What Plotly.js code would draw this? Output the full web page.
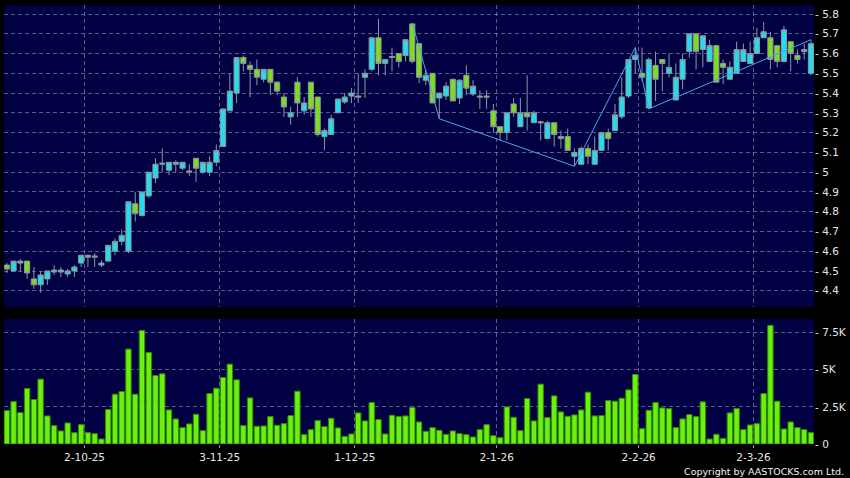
<!DOCTYPE html>
<html>
<head>
<meta charset="utf-8">
<script src="https://cdn.plot.ly/plotly-3.0.1.min.js"></script>
<style>
  html, body { margin: 0; padding: 0; background: #000; }
  #chart { width: 850px; height: 478px; }
</style>
</head>
<body>
<div id="chart"></div>
<script>
// ---------- DATA ----------
const startDate = '2025-09-16';
const holidays = ['2025-10-01','2025-10-07','2025-10-29','2025-12-25','2025-12-26',
                  '2026-01-01','2026-02-17','2026-02-18','2026-02-19'];

const open = [4.53,4.50,4.55,4.55,4.46,4.43,4.46,4.495,4.495,4.485,
  4.50,4.54,4.58,4.57,4.53,4.55,4.60,4.65,4.60,4.84,
  4.78,4.88,4.97,5.04,5.01,5.04,5.02,5.00,5.07,5.00,
  5.00,5.05,5.13,5.31,5.40,5.58,5.54,5.52,5.47,5.52,
  5.455,5.38,5.28,5.455,5.31,5.455,5.38,5.18,5.19,5.30,
  5.355,5.385,5.385,5.48,5.52,5.68,5.55,5.58,5.60,5.59,
  5.75,5.65,5.465,5.50,5.375,5.385,5.47,5.375,5.49,5.395,
  5.385,5.385,5.31,5.23,5.20,5.345,5.23,5.30,5.25,5.255,
  5.17,5.25,5.17,5.18,5.08,5.04,5.12,5.04,5.11,5.20,
  5.21,5.28,5.385,5.57,5.50,5.325,5.54,5.57,5.50,5.365,
  5.47,5.61,5.70,5.62,5.56,5.64,5.55,5.47,5.50,5.56,
  5.55,5.60,5.68,5.68,5.64,5.56,5.66,5.59,5.61,5.50];
const high = [4.54,4.55,4.56,4.55,4.52,4.50,4.50,4.53,4.52,4.51,
  4.53,4.58,4.58,4.59,4.555,4.63,4.665,4.71,4.85,4.90,
  4.90,5.00,5.07,5.12,5.05,5.06,5.05,5.04,5.07,5.05,
  5.08,5.14,5.32,5.50,5.58,5.59,5.56,5.57,5.52,5.52,
  5.46,5.40,5.33,5.48,5.38,5.455,5.38,5.22,5.29,5.37,
  5.40,5.425,5.50,5.52,5.68,5.775,5.57,5.63,5.60,5.67,
  5.755,5.65,5.52,5.50,5.40,5.455,5.47,5.47,5.54,5.465,
  5.415,5.415,5.345,5.23,5.30,5.375,5.375,5.49,5.31,5.26,
  5.26,5.25,5.21,5.22,5.12,5.13,5.14,5.18,5.20,5.22,
  5.345,5.48,5.57,5.63,5.63,5.58,5.61,5.57,5.60,5.55,
  5.60,5.70,5.70,5.69,5.67,5.645,5.57,5.56,5.66,5.65,
  5.66,5.73,5.76,5.71,5.64,5.74,5.66,5.62,5.65,5.67];
const low = [4.49,4.50,4.50,4.46,4.41,4.39,4.43,4.48,4.47,4.47,
  4.47,4.52,4.52,4.52,4.52,4.55,4.58,4.63,4.59,4.75,
  4.78,4.87,4.945,5.00,4.985,5.00,5.01,4.98,4.95,4.99,
  4.98,5.03,5.13,5.31,5.35,5.51,5.38,5.44,5.455,5.39,
  5.39,5.28,5.24,5.28,5.29,5.28,5.18,5.11,5.19,5.30,
  5.345,5.35,5.35,5.375,5.51,5.49,5.49,5.51,5.53,5.56,
  5.55,5.45,5.44,5.35,5.27,5.365,5.36,5.345,5.39,5.385,
  5.32,5.32,5.20,5.16,5.16,5.28,5.23,5.21,5.25,5.16,
  5.17,5.13,5.12,5.11,5.03,5.04,5.04,5.04,5.11,5.11,
  5.21,5.27,5.375,5.50,5.46,5.32,5.36,5.41,5.48,5.365,
  5.42,5.58,5.52,5.53,5.56,5.455,5.445,5.47,5.50,5.56,
  5.55,5.60,5.68,5.52,5.53,5.56,5.51,5.55,5.57,5.49];
const close = [4.51,4.55,4.54,4.49,4.43,4.48,4.50,4.505,4.505,4.50,
  4.52,4.58,4.57,4.575,4.54,4.63,4.65,4.68,4.85,4.79,
  4.90,5.00,5.04,5.045,5.05,5.05,5.05,5.005,5.02,5.05,
  5.05,5.11,5.32,5.41,5.58,5.55,5.52,5.48,5.52,5.455,
  5.41,5.33,5.30,5.35,5.35,5.32,5.19,5.21,5.27,5.37,
  5.38,5.40,5.38,5.50,5.68,5.55,5.57,5.585,5.56,5.67,
  5.56,5.48,5.49,5.35,5.40,5.435,5.36,5.465,5.425,5.435,
  5.38,5.38,5.23,5.20,5.30,5.30,5.30,5.28,5.30,5.25,
  5.25,5.19,5.18,5.11,5.10,5.12,5.08,5.11,5.20,5.17,
  5.29,5.38,5.57,5.59,5.48,5.57,5.47,5.55,5.53,5.48,
  5.57,5.70,5.61,5.69,5.64,5.455,5.53,5.53,5.62,5.62,
  5.60,5.68,5.71,5.57,5.56,5.72,5.60,5.57,5.62,5.65];
const volume = [2252,2860,2117,3738,2995,4369,1892,1239,878,1419,
  766,1306,766,698,338,2320,3355,3536,6396,3355,
  7657,6170,4617,4729,2297,1689,1103,1351,2004,901,
  3400,3761,4481,5382,4324,1239,3108,1194,1216,1847,
  1261,1374,1914,3558,631,968,1576,1171,1734,1081,
  518,676,2094,1554,2792,1644,676,1937,1847,1892,
  2455,1486,856,1103,923,653,878,698,631,473,
  968,1306,563,428,2500,1802,901,3063,1554,4031,
  1779,3243,2162,1869,1959,2297,3491,1892,1914,2928,
  2883,3085,3648,4684,1036,2274,2792,2432,2387,1103,
  1689,1982,1847,2838,338,653,383,2094,2387,968,
  1284,1374,3400,7995,2883,1013,1486,1103,968,766];

// zigzag pivots (trading-day index, price)
const zigzagIdx = [60, 64, 84, 93, 95, 119];
const zigzagPrice = [5.755, 5.27, 5.03, 5.63, 5.32, 5.67];

const tickDates  = ['2025-10-02','2025-11-03','2025-12-01','2026-01-02','2026-02-02','2026-03-02'];
const tickLabels = ['2-10-25','3-11-25','1-12-25','2-1-26','2-2-26','2-3-26'];
const priceTicks = [4.4,4.5,4.6,4.7,4.8,4.9,5.0,5.1,5.2,5.3,5.4,5.5,5.6,5.7,5.8];
const priceTickLabels = ['4.4','4.5','4.6','4.7','4.8','4.9','5','5.1','5.2','5.3','5.4','5.5','5.6','5.7','5.8'];
const volTicks = [0, 2500, 5000, 7500];
const volTickLabels = ['0','2.5K','5K','7.5K'];

// ---------- trading calendar ----------
function tradingDays(start, n) {
  const d = new Date(start + 'T00:00:00Z');
  const out = [];
  while (out.length < n) {
    const dow = d.getUTCDay();
    const s = d.toISOString().slice(0, 10);
    if (dow !== 0 && dow !== 6 && holidays.indexOf(s) < 0) out.push(s);
    d.setUTCDate(d.getUTCDate() + 1);
  }
  return out;
}
const dates = tradingDays(startDate, open.length);
const xi = dates.map((_, i) => i);
const tickPos = tickDates.map(d => dates.indexOf(d) + 0.5);

// ---------- styling ----------
const FONT = 'DejaVu Sans, Verdana, sans-serif';
const gridColor = 'rgba(130,130,175,0.7)';
const gridDash = '4px,3px';
const cyan = '#27dcea';
const green = '#80dc1e';
const wick = '#8a98a0';

const traces = [
  {
    type: 'scatter', mode: 'lines',
    x: zigzagIdx, y: zigzagPrice,
    xaxis: 'x', yaxis: 'y',
    line: {color: '#4aa6e6', width: 1},
    hoverinfo: 'skip'
  },
  {
    type: 'candlestick',
    x: xi, open: open, high: high, low: low, close: close,
    xaxis: 'x', yaxis: 'y',
    whiskerwidth: 0,
    increasing: {line: {color: wick, width: 1}, fillcolor: cyan},
    decreasing: {line: {color: wick, width: 1}, fillcolor: green}
  },
  {
    type: 'bar',
    x: xi, y: volume,
    xaxis: 'x2', yaxis: 'y2',
    marker: {color: '#6cf010', line: {color: '#2f8a00', width: 1}}
  }
];

const axisCommon = {
  showline: false, zeroline: false,
  gridcolor: gridColor, griddash: gridDash, gridwidth: 1,
  tickfont: {family: FONT, size: 10.5, color: '#e6e6e6'},
  fixedrange: true
};

const layout = {
  width: 850, height: 478,
  paper_bgcolor: '#000000',
  plot_bgcolor: '#000042',
  margin: {l: 4, r: 36, t: 5, b: 34, pad: 0},
  showlegend: false,
  bargap: 0.2,
  boxgap: 0.24,
  boxgroupgap: 0,
  xaxis: Object.assign({}, axisCommon, {
    domain: [0, 1], anchor: 'y',
    range: [-0.42, 119.45],
    tickmode: 'array', tickvals: tickPos, ticktext: tickLabels,
    showticklabels: false, ticks: '',
    showgrid: true,
    rangeslider: {visible: false}
  }),
  xaxis2: Object.assign({}, axisCommon, {
    domain: [0, 1], anchor: 'y2',
    range: [-0.42, 119.45],
    tickmode: 'array', tickvals: tickPos, ticktext: tickLabels,
    showticklabels: true, ticks: 'outside', ticklen: 3, tickcolor: '#9a9a9a',
    showgrid: true
  }),
  yaxis: Object.assign({}, axisCommon, {
    domain: [0.3121, 1], anchor: 'x',
    range: [4.318, 5.8455],
    side: 'right',
    tickmode: 'array', tickvals: priceTicks,
    ticktext: priceTickLabels.map(t => '- ' + t),
    ticks: '', showgrid: true
  }),
  yaxis2: Object.assign({}, axisCommon, {
    domain: [0, 0.2847], anchor: 'x2',
    range: [0, 8423],
    side: 'right',
    tickmode: 'array', tickvals: volTicks,
    ticktext: volTickLabels.map(t => '- ' + t),
    ticks: '', showgrid: true
  }),
  annotations: [{
    text: 'Copyright by AASTOCKS.com Ltd.',
    xref: 'paper', yref: 'paper',
    x: 1.0391, y: -0.0626,
    xanchor: 'right', yanchor: 'middle',
    showarrow: false,
    font: {family: FONT, size: 9.5, color: '#f0f0f0'}
  }]
};

Plotly.newPlot('chart', traces, layout, {staticPlot: true, displayModeBar: false});
</script>
</body>
</html>
